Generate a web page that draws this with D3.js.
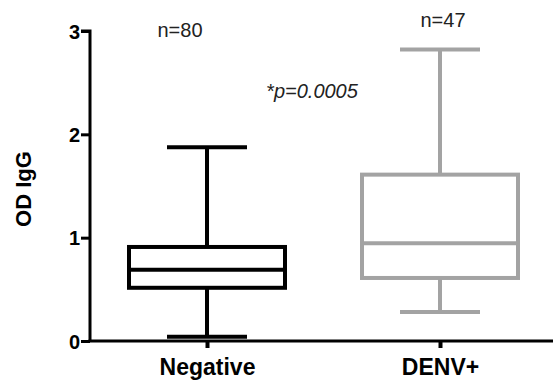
<!DOCTYPE html>
<html><head><meta charset="utf-8">
<script src="https://cdn.jsdelivr.net/npm/d3@7"></script>
<style>body{margin:0;background:#fff}svg{display:block}text{font-family:"Liberation Sans",Arial,sans-serif}</style>
</head><body><svg id="c" width="553" height="380"></svg>
<script>
const categories = ["Negative", "DENV+"];
const mins = [0.04, 0.28];
const q1s = [0.515, 0.61];
const medians = [0.69, 0.945];
const q3s = [0.91, 1.61];
const maxs = [1.875, 2.82];
const counts = ["n=80", "n=47"];
const colors = ["#000000", "#a3a3a3"];
const yTicks = [0, 1, 2, 3];
const pLabel = "*p=0.0005";

const svg = d3.select("#c");
const y = d3.scaleLinear().domain([0, 3]).range([341, 31]);
const x = d3.scalePoint().domain(categories).range([207, 440]);
const boxW = 156, capW = 80, sw = 4;

// y axis
const ya = svg.append("g").attr("transform", "translate(90,0)")
  .call(d3.axisLeft(y).tickValues(yTicks).tickFormat(d3.format("d")).tickSize(9).tickSizeOuter(0));
ya.select(".domain").attr("stroke", "#000").attr("stroke-width", 3);
ya.selectAll(".tick line").attr("stroke", "#000").attr("stroke-width", 3);
ya.selectAll(".tick text").attr("font-size", 20).attr("font-weight", "bold").attr("fill", "#000").attr("x", -10).attr("dy", "0.36em");
ya.select(".domain").attr("d", "M0,341V31H-9");

// x axis
const xa = svg.append("g").attr("transform", "translate(0,341)")
  .call(d3.axisBottom(x).tickSize(7).tickSizeOuter(0));
xa.select(".domain").attr("stroke", "#000").attr("stroke-width", 3).attr("d", "M88.5,0H553");
xa.selectAll(".tick line").attr("stroke", "#000").attr("stroke-width", 4);
xa.selectAll(".tick text").attr("font-size", 23).attr("font-weight", "bold").attr("fill", "#000").attr("y", 18).attr("dy", "0.71em");

// boxes
categories.forEach((c, i) => {
  const g = svg.append("g").attr("stroke", colors[i]).attr("stroke-width", sw).attr("fill", "none");
  const cx = x(c);
  g.append("line").attr("x1", cx).attr("x2", cx).attr("y1", y(maxs[i])).attr("y2", y(q3s[i]));
  g.append("line").attr("x1", cx).attr("x2", cx).attr("y1", y(q1s[i])).attr("y2", y(mins[i]));
  g.append("line").attr("x1", cx - capW/2).attr("x2", cx + capW/2).attr("y1", y(maxs[i])).attr("y2", y(maxs[i]));
  g.append("line").attr("x1", cx - capW/2).attr("x2", cx + capW/2).attr("y1", y(mins[i])).attr("y2", y(mins[i]));
  g.append("rect").attr("x", cx - boxW/2).attr("width", boxW).attr("y", y(q3s[i])).attr("height", y(q1s[i]) - y(q3s[i]));
  g.append("line").attr("x1", cx - boxW/2).attr("x2", cx + boxW/2).attr("y1", y(medians[i])).attr("y2", y(medians[i]));
});

// annotations
svg.append("text").attr("x", 180).attr("y", 37).attr("text-anchor", "middle").attr("font-size", 20).attr("fill", "#222").text(counts[0]);
svg.append("text").attr("x", 443).attr("y", 27).attr("text-anchor", "middle").attr("font-size", 20).attr("fill", "#222").text(counts[1]);
svg.append("text").attr("x", 312).attr("y", 98).attr("text-anchor", "middle").attr("font-size", 20).attr("font-style", "italic").attr("fill", "#222").text(pLabel);

// y label
svg.append("text").attr("transform", "translate(31,189) rotate(-90)").attr("text-anchor", "middle")
  .attr("font-size", 22).attr("font-weight", "bold").attr("fill", "#000").text("OD IgG");
</script></body></html>
